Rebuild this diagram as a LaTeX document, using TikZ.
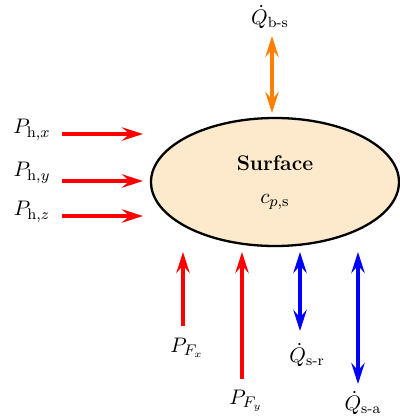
\documentclass[tikz,border=0pt]{standalone}
\usepackage{amsmath}
\usetikzlibrary{arrows.meta,shapes.geometric}
\begin{document}
\begin{tikzpicture}[x=0.52pt,y=-0.52pt,font=\fontsize{11}{13}\selectfont,
  tip/.tip={Stealth[length=11pt,width=7pt,inset=4pt]},
  flow/.style={line width=1.6pt,-tip},
  bflow/.style={line width=1.6pt,tip-tip},
  lbl/.style={inner sep=0pt}]
\useasboundingbox (0,0) rectangle (400,419);
\definecolor{surf}{RGB}{253,233,203}
\definecolor{qorange}{RGB}{255,128,0}
\node[ellipse,draw,line width=1.2pt,fill=surf,minimum width=248*0.52pt,minimum height=128*0.52pt,inner sep=0pt] (surf) at (275,182) {};
\node[lbl] (title) at (275,163) {\textbf{Surface}};
\node[lbl] (cp) at (275,202) {$c_{p,\mathrm{s}}$};
% top
\node[lbl] (qbs) at (270,17) {$\dot{Q}_{\text{b-s}}$};
\coordinate (qbsA) at (272,36);
\coordinate (qbsB) at (272,113);
\draw[bflow,qorange] (qbsA) -- (qbsB);
% left
\node[lbl] (phx) at (32,130) {$P_{\mathrm{h},x}$};
\node[lbl] (phy) at (32,173) {$P_{\mathrm{h},y}$};
\node[lbl] (phz) at (32,212) {$P_{\mathrm{h},z}$};
\coordinate (phxA) at (62,134); \coordinate (phxB) at (143,134);
\coordinate (phyA) at (62,181); \coordinate (phyB) at (143,181);
\coordinate (phzA) at (62,216); \coordinate (phzB) at (143,216);
\draw[flow,red] (phxA) -- (phxB);
\draw[flow,red] (phyA) -- (phyB);
\draw[flow,red] (phzA) -- (phzB);
% bottom
\node[lbl] (pfx) at (187,348) {$P_{F_x}$};
\node[lbl] (pfy) at (246,401) {$P_{F_y}$};
\node[lbl] (qsr) at (307,355) {$\dot{Q}_{\text{s-r}}$};
\node[lbl] (qsa) at (363,403) {$\dot{Q}_{\text{s-a}}$};
\coordinate (pfxA) at (183,326); \coordinate (pfxB) at (183,252);
\coordinate (pfyA) at (242,379); \coordinate (pfyB) at (242,252);
\coordinate (qsrA) at (300,252); \coordinate (qsrB) at (300,331);
\coordinate (qsaA) at (358,252); \coordinate (qsaB) at (358,384);
\draw[flow,red] (pfxA) -- (pfxB);
\draw[flow,red] (pfyA) -- (pfyB);
\draw[bflow,blue] (qsrA) -- (qsrB);
\draw[bflow,blue] (qsaA) -- (qsaB);
\end{tikzpicture}
\end{document}
